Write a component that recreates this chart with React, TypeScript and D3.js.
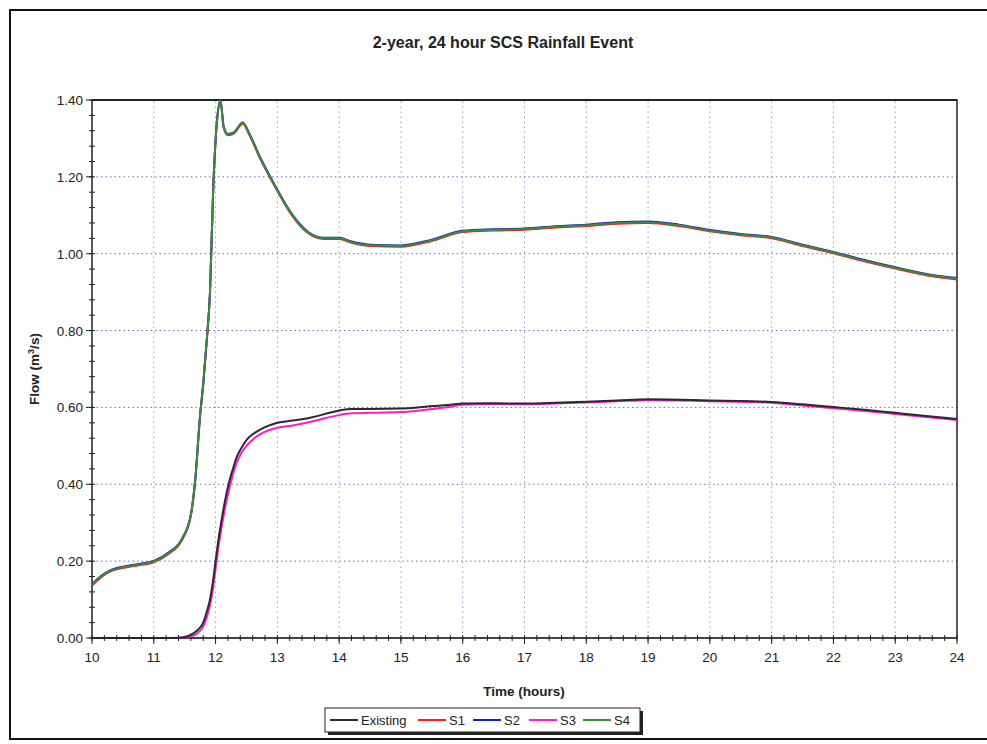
import React from "react";
import * as d3 from "d3";

const timeUpper = [10, 10.15, 10.3, 10.5, 10.75, 11, 11.25, 11.45, 11.6, 11.67, 11.75, 11.8, 11.86, 11.91, 11.96, 12.02, 12.08, 12.13, 12.2, 12.3, 12.44, 12.55, 12.72, 13, 13.2, 13.5, 13.75, 14, 14.2, 14.5, 15, 15.5, 16, 16.5, 17, 17.5, 18, 18.5, 19, 19.5, 20, 20.5, 21, 21.5, 22, 22.5, 23, 23.5, 24];
const flowUpper = [0.138, 0.16, 0.175, 0.184, 0.191, 0.199, 0.222, 0.255, 0.32, 0.41, 0.58, 0.66, 0.78, 0.9, 1.16, 1.34, 1.398, 1.33, 1.31, 1.315, 1.34, 1.31, 1.25, 1.165, 1.11, 1.055, 1.04, 1.04, 1.03, 1.022, 1.02, 1.035, 1.058, 1.062, 1.064, 1.07, 1.074, 1.08, 1.082, 1.074, 1.06, 1.05, 1.042, 1.022, 1.003, 0.982, 0.963, 0.946, 0.935];

const timeLower = [10, 11.3, 11.48, 11.64, 11.72, 11.8, 11.86, 11.91, 11.96, 12.0, 12.05, 12.1, 12.15, 12.21, 12.28, 12.34, 12.42, 12.5, 12.6, 12.72, 12.85, 13.0, 13.25, 13.53, 13.75, 14.0, 14.2, 14.5, 15.0, 15.4, 15.8, 16, 16.5, 17, 17.5, 18, 18.5, 19, 19.5, 20, 20.5, 21, 21.5, 22, 22.5, 23, 23.5, 24];
const flowExisting = [0, 0, 0.002, 0.012, 0.022, 0.04, 0.07, 0.1, 0.15, 0.2, 0.26, 0.31, 0.355, 0.4, 0.44, 0.47, 0.495, 0.515, 0.53, 0.542, 0.552, 0.56, 0.566, 0.573, 0.582, 0.592, 0.596, 0.596, 0.597, 0.602, 0.607, 0.61, 0.611, 0.61, 0.612, 0.615, 0.618, 0.621, 0.62, 0.618, 0.617, 0.614, 0.608, 0.601, 0.594, 0.586, 0.578, 0.57];
const flowS3 = [0, 0, 0, 0.006, 0.014, 0.03, 0.055, 0.085, 0.13, 0.18, 0.24, 0.29, 0.335, 0.38, 0.425, 0.455, 0.482, 0.5, 0.516, 0.53, 0.54, 0.547, 0.553, 0.562, 0.571, 0.58, 0.585, 0.586, 0.588, 0.594, 0.602, 0.607, 0.609, 0.608, 0.61, 0.613, 0.616, 0.619, 0.618, 0.616, 0.615, 0.612, 0.605, 0.598, 0.591, 0.583, 0.575, 0.567];

const xTicks = [10, 11, 12, 13, 14, 15, 16, 17, 18, 19, 20, 21, 22, 23, 24];
const yTicks = [0, 0.2, 0.4, 0.6, 0.8, 1.0, 1.2, 1.4];

const seriesNames = ["Existing", "S1", "S2", "S3", "S4"];
const seriesColors = ["#2a2a2a", "#ff1a1a", "#1a1acc", "#ff1acc", "#3a8c3a"];

const W = 987, H = 744;
const x = d3.scaleLinear().domain([10, 24]).range([92, 957]);
const y = d3.scaleLinear().domain([0, 1.4]).range([638, 100]);

function mkLine(ts: number[], vs: number[]) {
  const pts = ts.map((t, i) => [t, vs[i]] as [number, number]);
  return d3.line<[number, number]>().x(d => x(d[0])).y(d => y(d[1])).curve(d3.curveMonotoneX)(pts) || "";
}

export default function App() {
  const font = "'Liberation Sans', Arial, sans-serif";
  const minorX = d3.range(10, 24.001, 0.2);
  const minorY = d3.range(0, 1.4001, 0.04);
  const series = [
    { name: "S3", d: mkLine(timeLower, flowS3), c: seriesColors[3] },
    { name: "Existing", d: mkLine(timeLower, flowExisting), c: seriesColors[0] },
    { name: "S1", d: mkLine(timeUpper, flowUpper), c: seriesColors[1], dy: 0.7 },
    { name: "S2", d: mkLine(timeUpper, flowUpper), c: seriesColors[2], dy: -0.6 },
    { name: "S4", d: mkLine(timeUpper, flowUpper), c: seriesColors[4] },
  ];
  const legendX = [330, 418, 473, 529, 583];
  return (
    <svg width={W} height={H} style={{ position: "absolute", left: 0, top: 0, display: "block", background: "#fff" }} fontFamily={font}>
      <rect x={10} y={10} width={990} height={729} fill="none" stroke="#111" strokeWidth={2} />
      <text x={503} y={48} textAnchor="middle" fontSize={16} fontWeight="bold" fill="#222">2-year, 24 hour SCS Rainfall Event</text>
      {/* grid */}
      {yTicks.slice(1, -1).map(v => (
        <line key={"gy" + v} x1={x(10)} x2={x(24)} y1={y(v)} y2={y(v)} stroke="#6a6ad0" strokeWidth={1} strokeDasharray="1.5,3" />
      ))}
      {xTicks.slice(1, -1).map(t => (
        <line key={"gx" + t} x1={x(t)} x2={x(t)} y1={y(0)} y2={y(1.4)} stroke="#9a9ae0" strokeWidth={1} strokeDasharray="1.5,3.5" />
      ))}
      {/* frame */}
      <rect x={x(10)} y={y(1.4)} width={x(24) - x(10)} height={y(0) - y(1.4)} fill="none" stroke="#222" strokeWidth={1.5} />
      <line x1={x(10)} x2={x(24)} y1={y(1.4)} y2={y(1.4)} stroke="#222" strokeWidth={2} />
      {/* minor ticks */}
      {minorY.map((v, i) => (
        <line key={"my" + i} x1={x(10) - 3} x2={x(10) + 3} y1={y(v)} y2={y(v)} stroke="#222" strokeWidth={1} />
      ))}
      {minorX.map((t, i) => (
        <line key={"mx" + i} x1={x(t)} x2={x(t)} y1={y(0) - 3} y2={y(0) + 3} stroke="#222" strokeWidth={1} />
      ))}
      {yTicks.map(v => (
        <g key={"yt" + v}>
          <line x1={x(10) - 6} x2={x(10)} y1={y(v)} y2={y(v)} stroke="#222" />
          <text x={x(10) - 9} y={y(v) + 5} textAnchor="end" fontSize={13.5} fill="#222">{v.toFixed(2)}</text>
        </g>
      ))}
      {xTicks.map(t => (
        <g key={"xt" + t}>
          <line x1={x(t)} x2={x(t)} y1={y(0)} y2={y(0) + 6} stroke="#222" />
          <text x={x(t)} y={y(0) + 24} textAnchor="middle" fontSize={13.5} fill="#222">{t}</text>
        </g>
      ))}
      {/* series */}
      {series.map(s => (
        <path key={s.name} d={s.d} fill="none" stroke={s.c} strokeWidth={2} transform={s.dy ? `translate(0,${s.dy})` : undefined} />
      ))}
      <line x1={x(10)} x2={x(24)} y1={y(0)} y2={y(0)} stroke="#222" strokeWidth={1.5} opacity={0.5} />
      {/* axis titles */}
      <text x={524} y={696} textAnchor="middle" fontSize={13.5} fontWeight="bold" fill="#222">Time (hours)</text>
      <text transform="translate(39,369) rotate(-90)" textAnchor="middle" fontSize={13.5} fontWeight="bold" fill="#222">
        Flow (m<tspan dy={-5} fontSize={9}>3</tspan><tspan dy={5}>/s)</tspan>
      </text>
      {/* legend */}
      <rect x={328} y={711} width={315} height={24} fill="#222" />
      <rect x={325} y={708} width={315} height={24} fill="#fff" stroke="#222" strokeWidth={1} />
      {seriesNames.map((n, i) => (
        <g key={"lg" + n}>
          <line x1={legendX[i]} x2={legendX[i] + 28} y1={720} y2={720} stroke={seriesColors[i]} strokeWidth={2} />
          <text x={legendX[i] + 31} y={725} fontSize={13} fill="#222">{n}</text>
        </g>
      ))}
    </svg>
  );
}
